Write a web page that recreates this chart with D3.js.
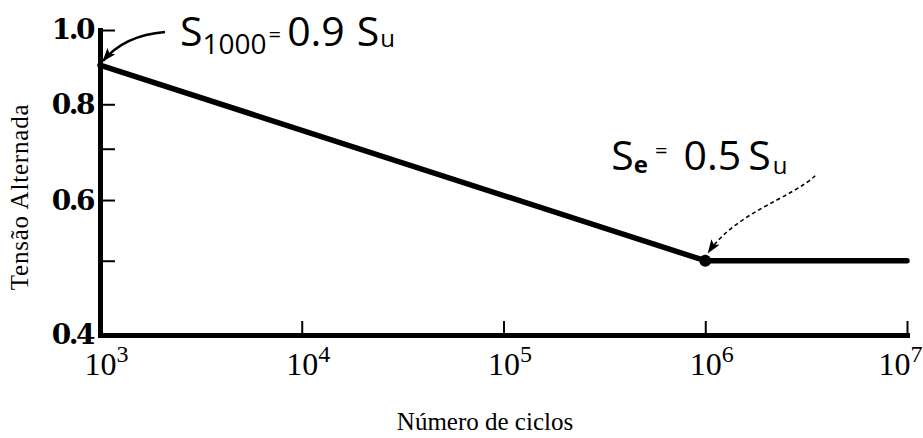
<!DOCTYPE html>
<html>
<head>
<meta charset="utf-8">
<script src="https://cdn.jsdelivr.net/npm/d3@7"></script>
<style>
  html, body { margin: 0; padding: 0; background: #fff; }
  svg { display: block; }
</style>
</head>
<body>
<svg id="chart" width="923" height="438"></svg>
<script>
// S-N curve: alternating stress (ratio of Su) versus number of cycles
const cycles = [1e3, 1e6, 1e7];
const stressRatio = [0.9, 0.5, 0.5];
const xTickValues = [1e3, 1e4, 1e5, 1e6, 1e7];
const xTickExponents = ["3", "4", "5", "6", "7"];
const yTickValues = [0.4, 0.5, 0.6, 0.7, 0.8, 1.0];
const yTickLabels = ["0.4", "", "0.6", "", "0.8", "1.0"];
const xTitle = "Número de ciclos";
const yTitle = "Tensão Alternada";

const W = 923;
const svg = d3.select("#chart");

const x = d3.scaleLog().domain([1e3, 1e7]).range([100, 907]);
const y = d3.scaleLog().domain([0.4, 1.0]).range([335, 30]);

// arrowhead used by the leader lines
const defs = svg.append("defs");
defs.append("marker")
  .attr("id", "arrow")
  .attr("viewBox", "0 0 14 10")
  .attr("refX", 13).attr("refY", 5)
  .attr("markerWidth", 14).attr("markerHeight", 10)
  .attr("markerUnits", "userSpaceOnUse")
  .attr("orient", "auto")
  .append("path")
  .attr("d", "M0,0 L14,5 L0,10 L3,5 Z")
  .attr("fill", "#000");

// y axis (log scale, ticks pointing inward)
const yAxis = d3.axisLeft(y)
  .tickValues(yTickValues)
  .tickFormat((d, i) => yTickLabels[i])
  .tickSizeInner(-15)
  .tickSizeOuter(0)
  .tickPadding(7);

const yG = svg.append("g")
  .attr("transform", `translate(${x(1e3)},0)`)
  .call(yAxis);
yG.select(".domain").attr("stroke", "#000").attr("stroke-width", 5).attr("stroke-linecap", "square");
yG.selectAll(".tick line").attr("stroke", "#000").attr("stroke-width", 2);
yG.selectAll(".tick text")
  .attr("fill", "#000")
  .attr("font-family", "'DejaVu Serif', serif")
  .attr("font-weight", "bold")
  .attr("font-size", 28)
  .attr("letter-spacing", -2.5);

// x axis (log scale, ticks pointing inward)
const xAxis = d3.axisBottom(x)
  .tickValues(xTickValues)
  .tickSizeInner(-14)
  .tickSizeOuter(0)
  .tickFormat("");

const xG = svg.append("g")
  .attr("transform", `translate(0,${y(0.4)})`)
  .call(xAxis);
xG.select(".domain").attr("stroke", "#000").attr("stroke-width", 5).attr("stroke-linecap", "square");
xG.selectAll(".tick line").attr("stroke", "#000").attr("stroke-width", 2);
xG.selectAll(".tick text")
  .text(null)
  .attr("y", 40)
  .attr("dy", null)
  .attr("fill", "#000")
  .attr("font-family", "'Liberation Serif', 'Times New Roman', serif")
  .attr("font-size", 32)
  .each(function (d, i) {
    const t = d3.select(this);
    const last = i === xTickValues.length - 1;
    // keep the rightmost label inside the frame
    if (last) t.attr("text-anchor", "end").attr("x", W - 1 - x(d));
    else t.attr("dx", 6);
    t.append("tspan").text("10");
    t.append("tspan").attr("dy", -13).attr("font-size", 24).text(xTickExponents[i]);
  });

// axis titles
svg.append("text")
  .attr("x", 485).attr("y", 430)
  .attr("text-anchor", "middle")
  .attr("font-family", "'Liberation Serif', 'Times New Roman', serif")
  .attr("font-size", 25)
  .attr("fill", "#000")
  .text(xTitle);

svg.append("text")
  .attr("transform", "translate(28,197) rotate(-90)")
  .attr("text-anchor", "middle")
  .attr("font-family", "'Liberation Serif', 'Times New Roman', serif")
  .attr("font-size", 25)
  .attr("letter-spacing", 0.8)
  .attr("fill", "#000")
  .text(yTitle);

// the curve
const pts = cycles.map((n, i) => ({ n, s: stressRatio[i] }));
const line = d3.line().x(d => x(d.n)).y(d => y(d.s));

svg.append("path")
  .datum(pts)
  .attr("d", line)
  .attr("fill", "none")
  .attr("stroke", "#000")
  .attr("stroke-width", 5.5)
  .attr("stroke-linejoin", "round")
  .attr("stroke-linecap", "round");

// knee of the curve (endurance limit)
svg.append("circle")
  .attr("cx", x(cycles[1])).attr("cy", y(stressRatio[1]))
  .attr("r", 6)
  .attr("fill", "#000");

// annotation for S1000
const p0 = [x(cycles[0]), y(stressRatio[0])];
svg.append("path")
  .attr("d", `M${p0[0] + 65},${p0[1] - 33} C${p0[0] + 40},${p0[1] - 31} ${p0[0] + 18},${p0[1] - 22} ${p0[0] + 3},${p0[1] - 4}`)
  .attr("fill", "none")
  .attr("stroke", "#000")
  .attr("stroke-width", 2.5)
  .attr("marker-end", "url(#arrow)");

const t0 = svg.append("text")
  .attr("x", p0[0] + 80).attr("y", p0[1] - 19)
  .attr("font-family", "'Open Sans', sans-serif")
  .attr("font-size", 41)
  .attr("fill", "#000");
t0.append("tspan").text("S");
t0.append("tspan").attr("font-size", 28).attr("dy", 8).text("1000");
t0.append("tspan").attr("font-size", 22).attr("dy", -12).attr("dx", 2).text("=");
t0.append("tspan").attr("dy", 4).attr("dx", 6).text("0.9");
t0.append("tspan").attr("dx", 12).text("S");
t0.append("tspan").attr("font-size", 24).attr("dy", 1).attr("dx", 1).text("u");

// annotation for Se
const p1 = [x(cycles[1]), y(stressRatio[1])];
svg.append("path")
  .attr("d", `M${p1[0] + 110},${p1[1] - 85} C${p1[0] + 85},${p1[1] - 62} ${p1[0] + 30},${p1[1] - 48} ${p1[0] + 3},${p1[1] - 8}`)
  .attr("fill", "none")
  .attr("stroke", "#000")
  .attr("stroke-width", 1.6)
  .attr("stroke-dasharray", "4,3")
  .attr("marker-end", "url(#arrow)");

const t1 = svg.append("text")
  .attr("x", p1[0] - 94).attr("y", p1[1] - 91)
  .attr("font-family", "'Open Sans', sans-serif")
  .attr("font-size", 41)
  .attr("fill", "#000");
t1.append("tspan").text("S");
t1.append("tspan").attr("font-size", 24).attr("font-weight", "bold").attr("dy", 3).text("e");
t1.append("tspan").attr("font-size", 22).attr("dy", -15).attr("dx", 7).text("=");
t1.append("tspan").attr("dy", 12).attr("dx", 16).text("0.5");
t1.append("tspan").attr("dx", 7).text("S");
t1.append("tspan").attr("font-size", 24).attr("dy", 4).attr("dx", 2).text("u");
</script>
</body>
</html>
